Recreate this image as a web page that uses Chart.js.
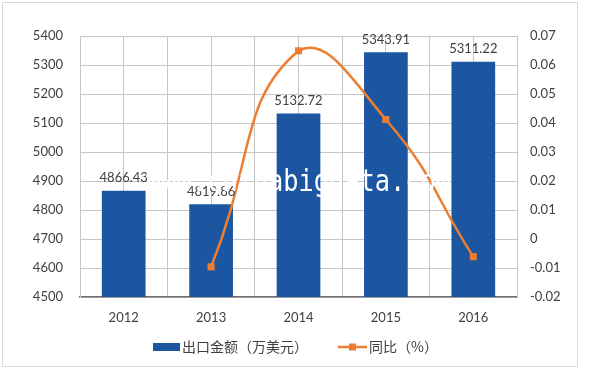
<!DOCTYPE html>
<html>
<head>
<meta charset="utf-8">
<script src="https://cdn.jsdelivr.net/npm/chart.js@4/dist/chart.umd.min.js"></script>
<style>
  html, body { margin: 0; padding: 0; background: #fff; }
  #wrap { width: 600px; height: 369px; position: relative; }
</style>
</head>
<body>
<div id="wrap"><canvas id="chart" width="600" height="369"></canvas></div>
<script>
// chart data
const years = ['2012', '2013', '2014', '2015', '2016'];
const exportValues = [4866.43, 4819.86, 5132.72, 5343.91, 5311.22];
const growthRates = [null, -0.0096, 0.0649, 0.0412, -0.0061];
const barLabel = '出口金额（万美元）';
const lineLabel = '同比（%）';
const watermark = 'www.chinabigdata.com';

const textColor = '#404040';
const gridColor = '#C6C6C6';
const barColor = '#1C55A0';
const lineColor = '#ED7D31';
const latin = 'Lato, "Liberation Sans", sans-serif';
const cjk = '"Noto Sans CJK SC", Lato, sans-serif';

// frame, bar value labels, legend and watermark
const extras = {
  id: 'extras',
  beforeDraw(chart) {
    const ctx = chart.ctx;
    ctx.save();
    ctx.fillStyle = '#fff';
    ctx.fillRect(0, 0, chart.width, chart.height);
    ctx.strokeStyle = '#D9D9D9';
    ctx.lineWidth = 1;
    ctx.strokeRect(2.5, 2.5, 575, 364);
    ctx.restore();
  },
  afterDatasetsDraw(chart) {
    const ctx = chart.ctx;
    const meta = chart.getDatasetMeta(1);
    ctx.save();
    ctx.font = '13px ' + latin;
    ctx.fillStyle = textColor;
    ctx.textAlign = 'center';
    ctx.textBaseline = 'bottom';
    meta.data.forEach((bar, i) => {
      ctx.fillText(exportValues[i].toFixed(2), bar.x, bar.y - 6);
    });

    // legend
    const ly = 347;
    ctx.fillStyle = barColor;
    ctx.fillRect(153, ly - 4, 27, 8);
    ctx.fillStyle = textColor;
    ctx.textAlign = 'left';
    ctx.textBaseline = 'middle';
    ctx.font = '14px ' + cjk;
    ctx.fillText(barLabel, 182, ly);
    ctx.strokeStyle = lineColor;
    ctx.lineWidth = 2.5;
    ctx.beginPath();
    ctx.moveTo(338, ly);
    ctx.lineTo(367, ly);
    ctx.stroke();
    ctx.fillStyle = lineColor;
    ctx.fillRect(349, ly - 3.5, 7, 7);
    ctx.fillStyle = textColor;
    ctx.fillText(lineLabel, 369, ly);

    // white watermark, horizontally condensed
    ctx.translate(146, 191);
    ctx.scale(0.817, 1);
    ctx.font = '31px "DejaVu Sans Mono", monospace';
    ctx.fillStyle = '#fff';
    ctx.textAlign = 'left';
    ctx.textBaseline = 'alphabetic';
    ctx.fillText(watermark, 0, 0);
    ctx.restore();
  }
};

new Chart(document.getElementById('chart'), {
  data: {
    labels: years,
    datasets: [
      {
        type: 'line',
        label: lineLabel,
        data: growthRates,
        yAxisID: 'y1',
        borderColor: lineColor,
        backgroundColor: lineColor,
        borderWidth: 2.5,
        tension: 0.5,
        pointStyle: 'rect',
        pointRadius: 5,
        pointBorderWidth: 0,
        order: 0
      },
      {
        type: 'bar',
        label: barLabel,
        data: exportValues,
        yAxisID: 'y',
        backgroundColor: barColor,
        categoryPercentage: 0.5,
        barPercentage: 1,
        order: 1
      }
    ]
  },
  options: {
    responsive: false,
    animation: false,
    layout: { padding: { top: 36, left: 0, right: 0, bottom: 0 } },
    plugins: {
      legend: { display: false },
      tooltip: { enabled: false }
    },
    scales: {
      x: {
        position: 'bottom',
        offset: true,
        grid: { color: gridColor, offset: true, drawTicks: false },
        border: { color: '#707070', width: 1.5 },
        ticks: { color: textColor, font: { family: latin, size: 13 }, padding: 13 },
        afterFit(axis) { axis.height = 72; }
      },
      x2: {
        position: 'top',
        offset: true,
        labels: years,
        grid: { color: gridColor, offset: false, drawTicks: false },
        border: { display: false },
        ticks: { display: false },
        afterFit(axis) { axis.height = 0; }
      },
      y: {
        position: 'left',
        min: 4500,
        max: 5400,
        ticks: {
          stepSize: 100,
          color: textColor,
          font: { family: latin, size: 13 },
          padding: 17,
          callback: v => String(v)
        },
        grid: { color: gridColor, drawTicks: false },
        border: { color: gridColor },
        afterFit(axis) { axis.width = 80; }
      },
      y1: {
        position: 'right',
        min: -0.02,
        max: 0.07,
        ticks: {
          stepSize: 0.01,
          color: textColor,
          font: { family: latin, size: 13 },
          padding: 13,
          callback: v => String(Math.round(v * 100) / 100)
        },
        grid: { drawOnChartArea: false, drawTicks: false },
        border: { color: gridColor },
        afterFit(axis) { axis.width = 83; }
      }
    }
  },
  plugins: [extras]
});
</script>
</body>
</html>
